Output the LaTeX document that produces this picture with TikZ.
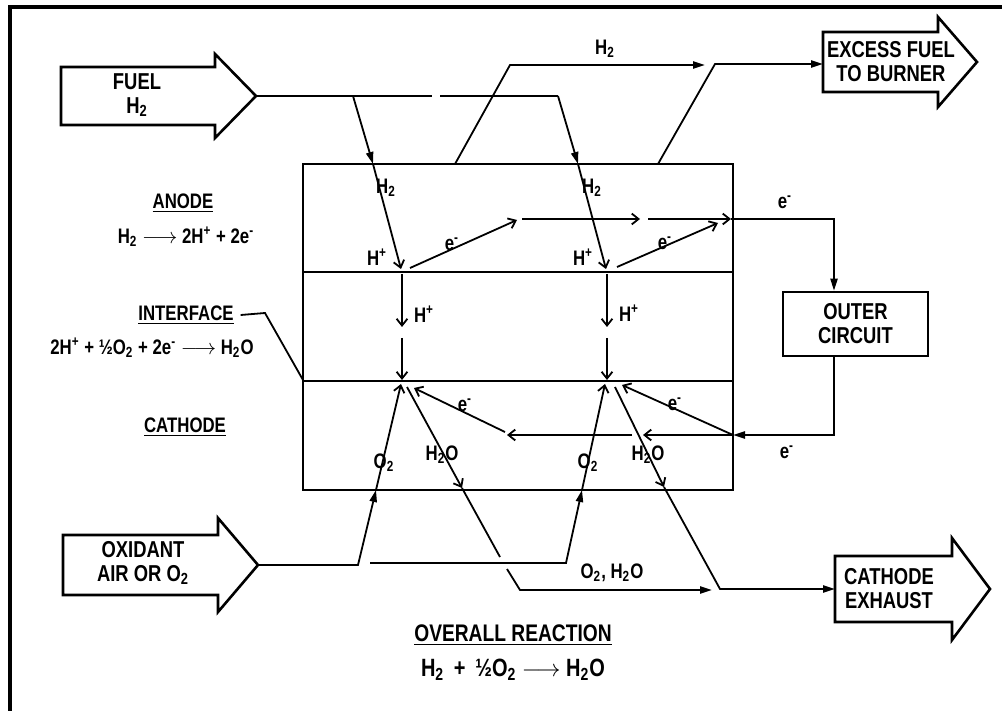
\documentclass[tikz,border=0pt]{standalone}
\usepackage{fontspec}
\setmainfont{Liberation Sans}[FakeStretch=0.8]
\usetikzlibrary{arrows.meta}

\begin{document}
\begin{tikzpicture}[x=0.5pt, y=-0.5pt,
  frame/.style={line width=2pt},
  wall/.style={line width=1.4pt},
  flow/.style={line width=0.9pt},
  fat/.style={line width=1.3pt, line join=miter},
  solid tip/.style={-{Triangle[length=6pt,width=3.6pt]}},
  open tip/.style={-{Straight Barb[length=3.4pt,width=5.4pt]}},
  big/.style={font=\fontsize{11.5}{14}\selectfont\bfseries, align=center},
  hdr/.style={font=\fontsize{10.5}{12}\selectfont\bfseries},
  lbl/.style={font=\fontsize{10.5}{11}\selectfont\bfseries, inner sep=0pt}
]
\useasboundingbox (0,0) rectangle (1002,711);
% ---------------- frame ----------------
\draw[frame] (1002,7) -- (10,7) -- (10,711);

% ---------------- big arrows ----------------
\draw[fat] (61,67) -- (215,67) -- (215,54) -- (256,96) -- (215,138) -- (215,125) -- (61,125) -- cycle;
\node[big] (fuel) at (137,95) {FUEL\\[-2pt]H\textsubscript{2}};
\coordinate (fueltip) at (256,96);

\draw[fat] (823,32) -- (938,32) -- (938,17) -- (977,62) -- (938,107) -- (938,92) -- (823,92) -- cycle;
\node[big] (excess) at (891,62) {EXCESS FUEL\\[-2pt]TO BURNER};
\coordinate (excesstail) at (823,64);

\draw[fat] (63,535) -- (218,535) -- (218,518) -- (258,565) -- (218,612) -- (218,595) -- (63,595) -- cycle;
\node[big] (oxidant) at (143,563) {OXIDANT\\[-2pt]AIR OR O\textsubscript{2}};
\coordinate (oxtip) at (258,565);

\draw[fat] (835,556) -- (952,556) -- (952,538) -- (990,589) -- (952,640) -- (952,622) -- (835,622) -- cycle;
\node[big] (exhaust) at (889,589) {CATHODE\\[-2pt]EXHAUST};
\coordinate (exhausttail) at (835,589);

% ---------------- cell ----------------
\draw[wall] (303,164) rectangle (733,490);
\draw[wall] (303,272) -- (733,272);
\draw[wall] (303,381) -- (733,381);

\node[draw, wall, minimum width=72.5pt, minimum height=32pt, big] (outer) at (855.5,324) {OUTER\\[-2pt]CIRCUIT};

% ---------------- left labels ----------------
\node[hdr] (anode) at (183,203) {\underline{ANODE}};
\node[hdr] (anodeeq) at (186,237) {H\textsubscript{2} $\longrightarrow$ 2H\textsuperscript{+} + 2e\textsuperscript{-}};
\node[hdr] (interface) at (186,315) {\underline{INTERFACE}};
\node[hdr] (interfaceeq) at (152,348) {2H\textsuperscript{+} + ½O\textsubscript{2} + 2e\textsuperscript{-} $\longrightarrow$ H\textsubscript{2}O};
\node[hdr] (cathode) at (185,427) {\underline{CATHODE}};
\node[hdr, font=\fontsize{12}{14}\selectfont\bfseries] (overall) at (513,635) {\underline{OVERALL REACTION}};
\node[hdr, font=\fontsize{12.5}{14}\selectfont\bfseries] (overalleq) at (513,670) {H\textsubscript{2} \,+\, ½O\textsubscript{2} $\longrightarrow$ H\textsubscript{2}O};
\draw[flow] (interface.east) -- (265,313) -- (303,380);

% ---------------- fuel side ----------------
\coordinate (fuelA) at (353,96);
\coordinate (fuelB) at (558,96);
\coordinate (inA) at (373,164);
\coordinate (inB) at (578,164);
\coordinate (anA) at (401,269);
\coordinate (anB) at (606,269);
\draw[flow] (fueltip) -- (fuelA) -- (432,96);
\draw[flow] (440,96) -- (fuelB);
\draw[flow, solid tip] (fuelA) -- (inA);
\draw[flow, open tip] (inA) -- (anA);
\draw[flow, solid tip] (fuelB) -- (inB);
\draw[flow, open tip] (inB) -- (anB);
\node[lbl] (h2a) at (386,188) {H\textsubscript{2}};
\node[lbl] (h2b) at (592,188) {H\textsubscript{2}};
\node[lbl] (hpa) at (377,257) {H\textsuperscript{+}};
\node[lbl] (hpb) at (583,257) {H\textsuperscript{+}};

\coordinate (outA) at (455,164);
\coordinate (upA) at (510,65);
\coordinate (h2end) at (705,65);
\coordinate (outB) at (658,164);
\coordinate (upB) at (715,64);
\draw[flow, solid tip] (outA) -- (upA) -- (h2end);
\draw[flow, solid tip] (outB) -- (upB) -- (excesstail);
\node[lbl] (h2top) at (605,49) {H\textsubscript{2}};

% ---------------- electrons ----------------
\coordinate (eA1) at (410,268);
\coordinate (eA2) at (517,220);
\coordinate (eB1) at (617,267);
\coordinate (eB2) at (718,223);
\coordinate (eout) at (834,219);
\draw[flow, open tip] (eA1) -- (eA2);
\draw[flow, open tip] (eB1) -- (eB2);
\draw[flow, open tip] (522,219) -- (640,219);
\draw[flow, open tip] (648,219) -- (731,219);
\draw[flow, solid tip] (731,219) -- (eout) -- (eout |- outer.north);
\node[lbl] (ea) at (452,244) {e\textsuperscript{-}};
\node[lbl] (eb) at (665,243) {e\textsuperscript{-}};
\node[lbl] (etop) at (785,202) {e\textsuperscript{-}};

\coordinate (ein) at (733,435);
\draw[flow, solid tip] (eout |- outer.south) -- (eout |- ein) -- (ein);
\node[lbl] (ebot) at (787,452) {e\textsuperscript{-}};
\draw[flow, open tip] (ein) -- (643,435);
\draw[flow, open tip] (632,435) -- (507,435);
\draw[flow, open tip] (ein) -- (622,385);
\draw[flow, open tip] (505,432) -- (414,388);
\node[lbl] (ec) at (465,405) {e\textsuperscript{-}};
\node[lbl] (ed) at (675,404) {e\textsuperscript{-}};

% ---------------- interface ----------------
\draw[flow, open tip] (402,274) -- (402,327);
\draw[flow, open tip] (402,338) -- (402,380);
\draw[flow, open tip] (607,274) -- (607,327);
\draw[flow, open tip] (607,338) -- (607,380);
\node[lbl] (hpc) at (424,314) {H\textsuperscript{+}};
\node[lbl] (hpd) at (629,313) {H\textsuperscript{+}};

% ---------------- oxidant side ----------------
\coordinate (oxA) at (358,565);
\coordinate (cbA) at (376,490);
\coordinate (oxC) at (370,563);
\coordinate (oxD) at (566,563);
\coordinate (cbB) at (582,490);
\draw[flow, solid tip] (oxtip) -- (oxA) -- (cbA);
\draw[flow, open tip] (cbA) -- (401,384);
\draw[flow, solid tip] (oxC) -- (oxD) -- (cbB);
\draw[flow, open tip] (cbB) -- (605,384);
\node[lbl] (o2a) at (384,463) {O\textsubscript{2}};
\node[lbl] (o2b) at (588,463) {O\textsubscript{2}};

\coordinate (wA) at (462,488);
\coordinate (wB) at (664,487);
\draw[flow, open tip] (407,387) -- (wA);
\draw[flow] (wA) -- (500,557);
\draw[flow, solid tip] (507,569) -- (520,590) -- (712,590);
\draw[flow, open tip] (615,387) -- (wB);
\draw[flow, solid tip] (wB) -- (720,589) -- (exhausttail);
\node[lbl] (wa) at (442,455) {H\textsubscript{2}O};
\node[lbl] (wb) at (648,455) {H\textsubscript{2}O};
\node[lbl] (mix) at (612,573) {O\textsubscript{2}, H\textsubscript{2}O};
\end{tikzpicture}
\end{document}
